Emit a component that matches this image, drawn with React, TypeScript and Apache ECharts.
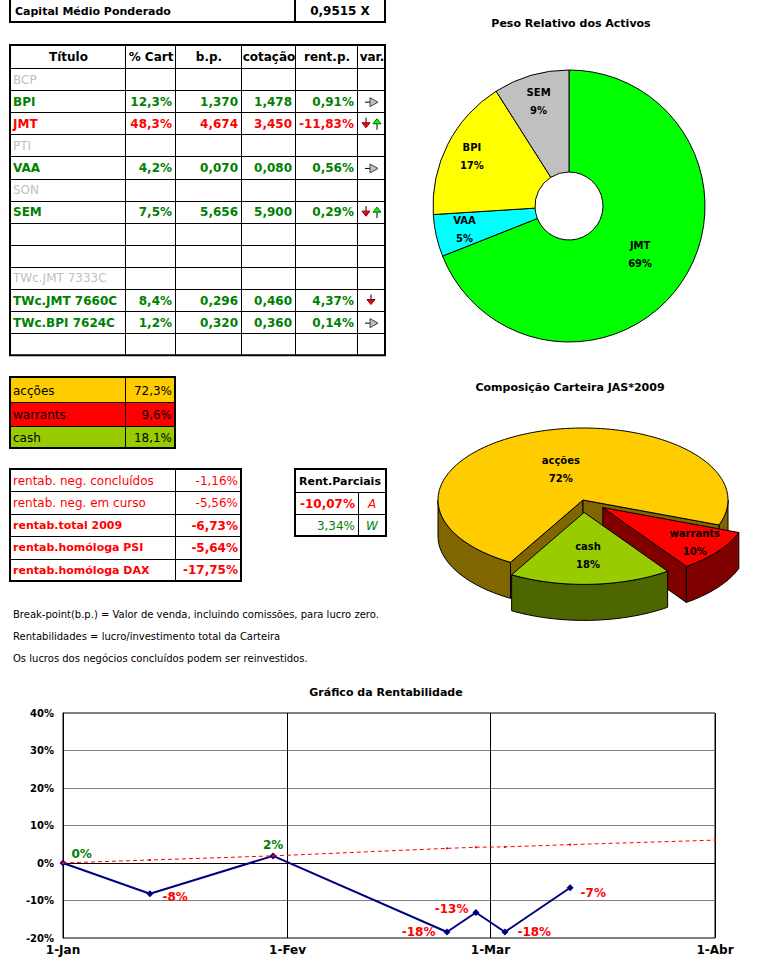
import React, { useEffect, useRef } from 'react';
import * as echarts from 'echarts';

const FONT = '"DejaVu Sans", sans-serif';

// ---- header box ----
const capitalLabel = 'Capital Médio Ponderado';
const capitalValue = '0,9515 X';

// ---- main table ----
const tableHeaders = ['Título', '% Cart', 'b.p.', 'cotação', 'rent.p.', 'var.'];
const tableTitles = ['BCP', 'BPI', 'JMT', 'PTI', 'VAA', 'SON', 'SEM', '', '', 'TWc.JMT 7333C', 'TWc.JMT 7660C', 'TWc.BPI 7624C', ''];
const tablePctCart = ['', '12,3%', '48,3%', '', '4,2%', '', '7,5%', '', '', '', '8,4%', '1,2%', ''];
const tableBP = ['', '1,370', '4,674', '', '0,070', '', '5,656', '', '', '', '0,296', '0,320', ''];
const tableCotacao = ['', '1,478', '3,450', '', '0,080', '', '5,900', '', '', '', '0,460', '0,360', ''];
const tableRentP = ['', '0,91%', '-11,83%', '', '0,56%', '', '0,29%', '', '', '', '4,37%', '0,14%', ''];
const tableVar = ['', 'flat', 'downup', '', 'flat', '', 'downup', '', '', '', 'down', 'flat', ''];
const tableState = ['inactive', 'gain', 'loss', 'inactive', 'gain', 'inactive', 'gain', '', '', 'inactive', 'gain', 'gain', ''];

// ---- allocation ----
const allocNames = ['acções', 'warrants', 'cash'];
const allocValues = [72.3, 9.6, 18.1];

// ---- rentabilidade table ----
const rentLabels = ['rentab. neg. concluídos', 'rentab. neg. em curso', 'rentab.total 2009', 'rentab.homóloga PSI', 'rentab.homóloga DAX'];
const rentValues = ['-1,16%', '-5,56%', '-6,73%', '-5,64%', '-17,75%'];

// ---- rent. parciais ----
const parcHeader = 'Rent.Parciais';
const parcValues = ['-10,07%', '3,34%'];
const parcKeys = ['A', 'W'];

// ---- notes ----
const notes = [
  'Break-point(b.p.) = Valor de venda, incluindo comissões, para lucro zero.',
  'Rentabilidades = lucro/investimento total da Carteira',
  'Os lucros dos negócios concluídos podem ser reinvestidos.',
];

// ---- doughnut ----
const ringNames = ['JMT', 'VAA', 'BPI', 'SEM'];
const ringValues = [69, 5, 17, 9];

// ---- line chart ----
const rentDates = ['2009-01-01', '2009-01-13', '2009-01-30', '2009-02-23', '2009-02-27', '2009-03-03', '2009-03-12'];
const rentSeries = [0, -8.2, 1.9, -18.4, -13.2, -18.4, -6.6];
const refDates = ['2009-01-01', '2009-01-13', '2009-01-30', '2009-02-23', '2009-02-27', '2009-03-03', '2009-03-12', '2009-04-01'];
const refSeries = [0, 0.8, 1.9, 3.9, 4.2, 4.3, 4.9, 6.1];
const xTickDates = ['2009-01-01', '2009-02-01', '2009-03-01', '2009-04-01'];
const xTickLabels = ['1-Jan', '1-Fev', '1-Mar', '1-Abr'];

// ---- styling / layout constants ----
const GREEN = '#008000';
const RED = '#FF0000';
const GRAY = '#C0C0C0';
const allocFill = ['#FFCC00', '#FF0000', '#99CC00'];
const allocSide = ['#806600', '#800000', '#4D6600'];
const ringColors = ['#00FF00', '#00FFFF', '#FFFF00', '#C0C0C0'];
const ringLabelRadius = [83, 104, 106, 106];
const pie3dLabelFrac = [0.45, 0.8, 0.6];
const lineLabelPlace: any[] = [
  { position: 'right', offset: [0, -9] },
  { position: 'right', offset: [4, 3] },
  { position: 'top', offset: [0, 4] },
  { position: 'left', offset: [-3, 0] },
  { position: 'left', offset: [1, -4] },
  { position: 'right', offset: [4, 0] },
  { position: 'right', offset: [2, 5] },
];

const DAY = 86400000;
const dayOf = (d: string) => Math.round((Date.parse(d) - Date.parse(xTickDates[0])) / DAY);

function buildGraphics() {
  const g: any[] = [];
  const rect = (x: number, y: number, w: number, h: number, fill: string, stroke: string | null, lw = 1) =>
    g.push({ type: 'rect', silent: true, shape: { x, y, width: w, height: h }, style: { fill, stroke: stroke || 'none', lineWidth: lw } });
  const line = (x1: number, y1: number, x2: number, y2: number, lw = 1, stroke = '#000') =>
    g.push({ type: 'line', silent: true, shape: { x1, y1, x2, y2 }, style: { stroke, lineWidth: lw } });
  const text = (t: string, x: number, y: number, fill: string, font: string, align = 'left') =>
    g.push({ type: 'text', silent: true, x, y, style: { text: t, fill, font, textAlign: align, textVerticalAlign: 'middle' } });
  const poly = (pts: number[][], fill: string, stroke = '#000') =>
    g.push({ type: 'polygon', silent: true, shape: { points: pts }, style: { fill, stroke, lineWidth: 1 } });

  const B12 = `bold 12px ${FONT}`;
  const R12 = `12px ${FONT}`;
  const B11 = `bold 11px ${FONT}`;

  // capital box
  rect(10, -6, 375, 28, '#fff', '#000', 2);
  line(295, -6, 295, 22, 2);
  text(capitalLabel, 15, 11, '#000', B11);
  text(capitalValue, 340, 11, '#000', B12, 'center');

  // main table
  const colX = [10, 125, 175, 241, 295, 357, 385];
  const top = 45, headH = 23, rowH = 22.1;
  const nRows = tableTitles.length;
  const bottom = top + headH + rowH * nRows;
  rect(10, top, 375, bottom - top, '#fff', null);
  for (let c = 1; c < colX.length - 1; c++) line(colX[c] + 0.5, top, colX[c] + 0.5, bottom, 1);
  line(10, top + headH + 0.5, 385, top + headH + 0.5, 1);
  for (let r = 1; r < nRows; r++) {
    const y = Math.round(top + headH + rowH * r) + 0.5;
    line(10, y, 385, y, 1);
  }
  rect(10, top, 375, bottom - top, 'none', '#000', 2);
  tableHeaders.forEach((h, c) => text(h, (colX[c] + colX[c + 1]) / 2 + 1, top + headH / 2, '#000', B12, 'center'));
  for (let r = 0; r < nRows; r++) {
    const cy = top + headH + rowH * r + rowH / 2 + 0.5;
    const st = tableState[r];
    if (!tableTitles[r]) continue;
    if (st === 'inactive') {
      text(tableTitles[r], 13, cy, GRAY, R12);
      continue;
    }
    const col = st === 'loss' ? RED : GREEN;
    text(tableTitles[r], 13, cy, col, B12);
    text(tablePctCart[r], colX[2] - 3, cy, col, B12, 'right');
    text(tableBP[r], colX[3] - 3, cy, col, B12, 'right');
    text(tableCotacao[r], colX[4] - 3, cy, col, B12, 'right');
    text(tableRentP[r], colX[5] - 3, cy, col, B12, 'right');
    const v = tableVar[r];
    const down = (cx: number) => {
      line(cx, cy - 6, cx, cy - 1, 1);
      poly([[cx - 4, cy - 1], [cx + 4, cy - 1], [cx, cy + 4]], '#FF0000', '#800000');
    };
    const up = (cx: number) => {
      line(cx, cy, cx, cy + 6, 1);
      poly([[cx - 4, cy], [cx + 4, cy], [cx, cy - 5]], '#00FF00', '#006600');
    };
    if (v === 'flat') {
      line(365, cy + 0.5, 370, cy + 0.5, 1);
      poly([[370, cy - 4], [378, cy + 0.5], [370, cy + 5]], '#C0C0C0', '#404040');
    } else if (v === 'downup') {
      down(366);
      up(377);
    } else if (v === 'down') {
      down(371);
    }
  }

  // allocation table
  const aTop = 377, aRowH = [25, 24, 22];
  let ay = aTop;
  allocNames.forEach((n, i) => {
    rect(10, ay, 165, aRowH[i], allocFill[i], null);
    if (i > 0) line(10, ay + 0.5, 175, ay + 0.5, 1);
    text(n, 13, ay + aRowH[i] / 2 + 1, '#000', R12);
    text(allocValues[i].toFixed(1).replace('.', ',') + '%', 172, ay + aRowH[i] / 2 + 1, '#000', R12, 'right');
    ay += aRowH[i];
  });
  line(125.5, aTop, 125.5, ay, 1);
  rect(10, aTop, 165, ay - aTop, 'none', '#000', 2);

  // rentab table
  const rTop = 469, rRowH = 22.4;
  rect(10, rTop, 231, rRowH * 5, '#fff', null);
  for (let r = 1; r < 5; r++) {
    const y = Math.round(rTop + rRowH * r) + 0.5;
    line(10, y, 241, y, 1);
  }
  line(175.5, rTop, 175.5, rTop + rRowH * 5, 1);
  rentLabels.forEach((l, r) => {
    const cy = rTop + rRowH * r + rRowH / 2 + 0.5;
    const f = r < 2 ? R12 : B11;
    text(l, 13, cy, RED, f);
    text(rentValues[r], 238, cy, RED, r < 2 ? R12 : B12, 'right');
  });
  rect(10, rTop, 231, rRowH * 5, 'none', '#000', 2);

  // rent parciais
  const pTop = 469;
  rect(295, pTop, 91, 67, '#fff', null);
  line(295, pTop + 23.5, 386, pTop + 23.5, 1);
  line(295, pTop + 45.5, 386, pTop + 45.5, 1);
  line(358.5, pTop + 23, 358.5, pTop + 67, 1);
  text(parcHeader, 340, pTop + 12, '#000', B11, 'center');
  text(parcValues[0], 355, pTop + 35, RED, B12, 'right');
  text(parcKeys[0], 372, pTop + 35, RED, `italic 12px ${FONT}`, 'center');
  text(parcValues[1], 355, pTop + 57, GREEN, R12, 'right');
  text(parcKeys[1], 372, pTop + 57, GREEN, `italic 12px ${FONT}`, 'center');
  rect(295, pTop, 91, 67, 'none', '#000', 2);

  // notes
  notes.forEach((n, i) => text(n, 13, 614 + i * 22, '#000', `10px ${FONT}`));

  // chart titles
  text('Peso Relativo dos Activos', 571, 23, '#000', B11, 'center');
  text('Composição Carteira JAS*2009', 570, 387, '#000', B11, 'center');
  text('Gráfico da Rentabilidade', 386, 692, '#000', B11, 'center');
  return g;
}

// 3D pie geometry
const P3 = { cx: 583, cy: 500, rx: 145, ry: 72, depth: 36, explode: 25, start: 120 };

function render3d(params: any, api: any) {
  const i = params.dataIndex;
  const total = allocValues.reduce((a, b) => a + b, 0);
  let a0 = P3.start;
  for (let j = 0; j < i; j++) a0 += (allocValues[j] / total) * 360;
  const a1 = a0 + (api.value(0) / total) * 360;
  const rad = (d: number) => (d * Math.PI) / 180;
  const mid = rad((a0 + a1) / 2);
  const ex = i === 0 ? 0 : P3.explode;
  const cx = P3.cx + ex * Math.cos(mid);
  const cy = P3.cy + ex * Math.sin(mid) * (P3.ry / P3.rx);
  const D = P3.depth;
  const pt = (d: number, dy = 0) => [cx + P3.rx * Math.cos(rad(d)), cy + P3.ry * Math.sin(rad(d)) + dy];
  const arc = (lo: number, hi: number, dy = 0) => {
    const pts: number[][] = [];
    const n = Math.max(2, Math.ceil((hi - lo) / 2));
    for (let k = 0; k <= n; k++) pts.push(pt(lo + ((hi - lo) * k) / n, dy));
    return pts;
  };
  const children: any[] = [];
  const st = (fill: string) => ({ fill, stroke: '#000', lineWidth: 1 });
  for (const base of [0, 360]) {
    const lo = Math.max(a0, base);
    const hi = Math.min(a1, base + 180);
    if (hi > lo) {
      const topArc = arc(lo, hi);
      const botArc = arc(lo, hi, D).reverse();
      children.push({ type: 'polygon', shape: { points: topArc.concat(botArc) }, style: st(allocSide[i]) });
    }
  }
  if (Math.cos(rad(a0)) < 0) {
    const e = pt(a0);
    children.push({ type: 'polygon', shape: { points: [[cx, cy], e, [e[0], e[1] + D], [cx, cy + D]] }, style: st(allocSide[i]) });
  }
  if (Math.cos(rad(a1)) > 0) {
    const e = pt(a1);
    children.push({ type: 'polygon', shape: { points: [[cx, cy], e, [e[0], e[1] + D], [cx, cy + D]] }, style: st(allocSide[i]) });
  }
  children.push({ type: 'polygon', shape: { points: [[cx, cy]].concat(arc(a0, a1)) }, style: st(allocFill[i]) });
  const f = pie3dLabelFrac[i];
  const pct = Math.round((api.value(0) / total) * 100) + '%';
  children.push({
    type: 'text',
    x: cx + f * P3.rx * Math.cos(mid),
    y: cy + f * P3.ry * Math.sin(mid),
    style: { text: allocNames[i] + '\n' + pct, fill: '#000', font: `bold 10px ${FONT}`, textAlign: 'center', textVerticalAlign: 'middle', lineHeight: 18 },
  });
  return { type: 'group', children };
}

export default function App() {
  const ref = useRef<HTMLDivElement>(null);
  useEffect(() => {
    if (!ref.current) return;
    const chart = echarts.init(ref.current, null, { renderer: 'svg' });
    const ringTotal = ringValues.reduce((a, b) => a + b, 0);
    const xTickValues = xTickDates.map(dayOf);
    const option: any = {
      animation: false,
      backgroundColor: '#fff',
      textStyle: { fontFamily: FONT },
      graphic: buildGraphics(),
      grid: { left: 63, top: 713, width: 652, height: 225, show: true, borderColor: '#000', borderWidth: 1, containLabel: false },
      xAxis: {
        type: 'value',
        min: xTickValues[0],
        max: xTickValues[3],
        axisLine: { show: true, lineStyle: { color: '#000' } },
        axisTick: { show: false, customValues: xTickValues },
        axisLabel: {
          customValues: xTickValues,
          margin: 6,
          color: '#000',
          fontWeight: 'bold',
          fontSize: 12,
          fontFamily: FONT,
          showMinLabel: true,
          showMaxLabel: true,
          formatter: (v: number) => xTickLabels[xTickValues.indexOf(Math.round(v))] || '',
        },
        splitLine: { show: true, lineStyle: { color: '#000', width: 1 } },
      },
      yAxis: {
        type: 'value',
        min: -20,
        max: 40,
        interval: 10,
        axisLine: { show: true, lineStyle: { color: '#000' } },
        axisTick: { show: false },
        axisLabel: { formatter: '{value}%', color: '#000', fontWeight: 'bold', fontSize: 10, margin: 9, fontFamily: FONT },
        splitLine: { show: true, lineStyle: { color: '#808080', width: 1 } },
      },
      series: [
        {
          type: 'line',
          name: 'Rentabilidade',
          data: rentDates.map((d, i) => ({
            value: [dayOf(d), rentSeries[i]],
            label: {
              ...lineLabelPlace[i],
              color: rentSeries[i] >= 0 ? GREEN : RED,
            },
          })),
          lineStyle: { color: '#000080', width: 2 },
          itemStyle: { color: '#000080' },
          symbol: 'diamond',
          symbolSize: 7,
          label: {
            show: true,
            fontWeight: 'bold',
            fontSize: 12,
            fontFamily: FONT,
            formatter: (p: any) => Math.round(p.value[1]) + '%',
          },
          z: 3,
        },
        {
          type: 'line',
          name: 'Referência',
          data: refDates.map((d, i) => [dayOf(d), refSeries[i]]),
          lineStyle: { color: RED, width: 1, type: [4, 3] },
          itemStyle: { color: RED },
          symbol: 'rect',
          symbolSize: 2,
          z: 4,
        },
        {
          type: 'pie',
          name: 'Peso Relativo dos Activos',
          center: [569, 206],
          radius: [34, 136],
          startAngle: 90,
          clockwise: true,
          avoidLabelOverlap: false,
          data: ringNames.map((n, i) => ({ name: n, value: ringValues[i], itemStyle: { color: ringColors[i] } })),
          itemStyle: { borderColor: '#000', borderWidth: 1 },
          label: {
            show: true,
            position: 'inside',
            color: '#000',
            fontWeight: 'bold',
            fontSize: 10,
            fontFamily: FONT,
            lineHeight: 18,
            formatter: '{b}\n{d}%',
          },
          percentPrecision: 0,
          labelLine: { show: false },
          labelLayout: (p: any) => {
            const i = p.dataIndex;
            let acc = 0;
            for (let j = 0; j < i; j++) acc += ringValues[j];
            const mid = ((acc + ringValues[i] / 2) / ringTotal) * Math.PI * 2;
            const shift = ringLabelRadius[i] - 85;
            return { dx: shift * Math.sin(mid), dy: -shift * Math.cos(mid) };
          },
          emphasis: { disabled: true },
        },
        {
          type: 'custom',
          name: 'Composição Carteira JAS*2009',
          coordinateSystem: 'none',
          data: allocValues.map((v, i) => [v, i]),
          renderItem: render3d,
          silent: true,
        },
      ],
    };
    chart.setOption(option);
    return () => chart.dispose();
  }, []);
  return <div ref={ref} style={{ position: 'absolute', left: 0, top: 0, width: 762, height: 969 }} />;
}
